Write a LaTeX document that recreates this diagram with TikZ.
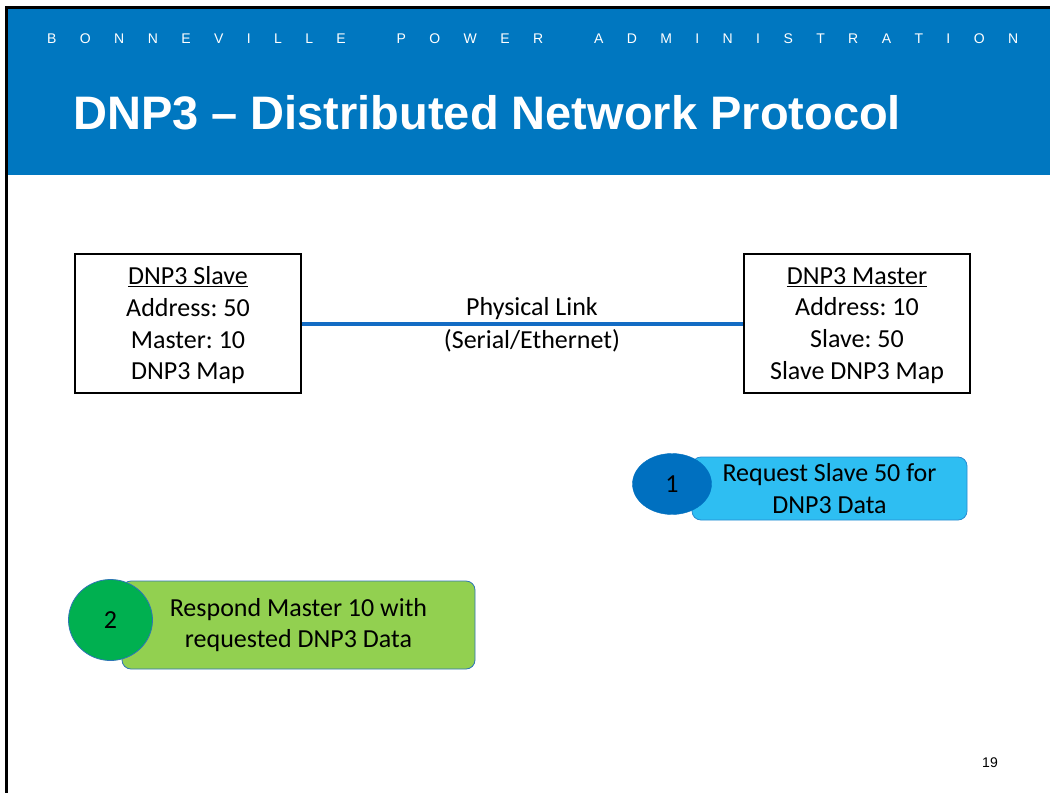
\documentclass[tikz,border=0pt]{standalone}
\usepackage{fontspec}
\setmainfont{Carlito}
\newfontfamily\arialfont[Ligatures=TeX]{Liberation Sans}
\usetikzlibrary{shapes.geometric}
\frenchspacing

\definecolor{bpablue}{RGB}{0,119,192}
\definecolor{linkblue}{RGB}{19,108,196}
\definecolor{reqfill}{RGB}{46,190,242}
\definecolor{reqedge}{RGB}{40,140,210}
\definecolor{stepone}{RGB}{0,112,192}
\definecolor{respfill}{RGB}{146,208,80}
\definecolor{respedge}{RGB}{46,117,182}
\definecolor{steptwo}{RGB}{0,176,80}

\newcommand{\lsp}{\hfill}
\newcommand{\wsp}{\hfill\hspace{4pt}\hfill}

\tikzset{
  infobox/.style={draw=black, line width=2.6pt, fill=white,
    minimum width=226pt, minimum height=139pt, inner sep=0pt},
  boxtext/.style={align=center, inner sep=0pt, font=\fontsize{26}{31.7}\selectfont},
  callout/.style={rounded corners=9pt, line width=0.8pt, inner sep=0pt,
    align=center, font=\fontsize{26}{31.5}\selectfont},
  stepmark/.style={ellipse, inner sep=0pt, font=\fontsize{26}{30}\selectfont},
  linklabel/.style={align=center, font=\fontsize{26}{31.5}\selectfont}
}

\begin{document}
\begin{tikzpicture}[x=1pt,y=-1pt]
\useasboundingbox (0,0) rectangle (1050,793);
\fill[white] (0,0) rectangle (1050,793);

% header band and frame
\fill[bpablue] (5,7) rectangle (1050,175);
\draw[black, line width=3pt] (1050,7.5) -- (6.5,7.5) -- (6.5,793);

\node[anchor=base west, inner sep=0pt, text=white,
      font=\arialfont\fontsize{14}{16}\selectfont] (agency) at (47,43)
  {\hbox to 971pt{B\lsp O\lsp N\lsp N\lsp E\lsp V\lsp I\lsp L\lsp L\lsp E\wsp
   P\lsp O\lsp W\lsp E\lsp R\wsp
   A\lsp D\lsp M\lsp I\lsp N\lsp I\lsp S\lsp T\lsp R\lsp A\lsp T\lsp I\lsp O\lsp N}};

\node[anchor=base west, inner sep=0pt, text=white,
      font=\arialfont\bfseries\fontsize{47}{52}\selectfont] (title) at (73,129)
  {DNP3 – Distributed Network Protocol};

% endpoints
\node[infobox] (slave) at (188,323.5) {};
\node[boxtext] (slavetext) at ([yshift=-2pt]slave.center)
  {\underline{DNP3 Slave}\\Address: 50\\Master: 10\\DNP3 Map};
\node[infobox] (master) at (857,323.5) {};
\node[boxtext] (mastertext) at ([yshift=-2pt]master.center)
  {\underline{DNP3 Master}\\Address: 10\\Slave: 50\\Slave DNP3 Map};

\draw[linkblue, line width=4pt] (slave.east) -- (master.west);
\node[linklabel, anchor=center] (linktop) at (532,309) {Physical Link};
\node[linklabel, anchor=center] (linkbot) at (532,341) {(Serial/Ethernet)};

% step 1: request
\node[callout, draw=reqedge, fill=reqfill, minimum width=275pt, minimum height=63pt]
  (req) at (829.5,488.5) {Request Slave 50 for\\DNP3 Data};
\node[stepmark, fill=stepone, draw=stepone, minimum width=79pt, minimum height=61pt]
  (one) at (672,484) {1};

% step 2: response
\node[callout, draw=respedge, fill=respfill, minimum width=353pt, minimum height=88pt]
  (resp) at (298.5,625) {Respond Master 10 with\\requested DNP3 Data};
\node[stepmark, fill=steptwo, draw=respedge, line width=0.8pt, minimum width=84pt, minimum height=81pt]
  (two) at (110.5,620) {2};

\node[font=\arialfont\fontsize{14}{16}\selectfont] (page) at (990,763) {19};
\end{tikzpicture}
\end{document}
